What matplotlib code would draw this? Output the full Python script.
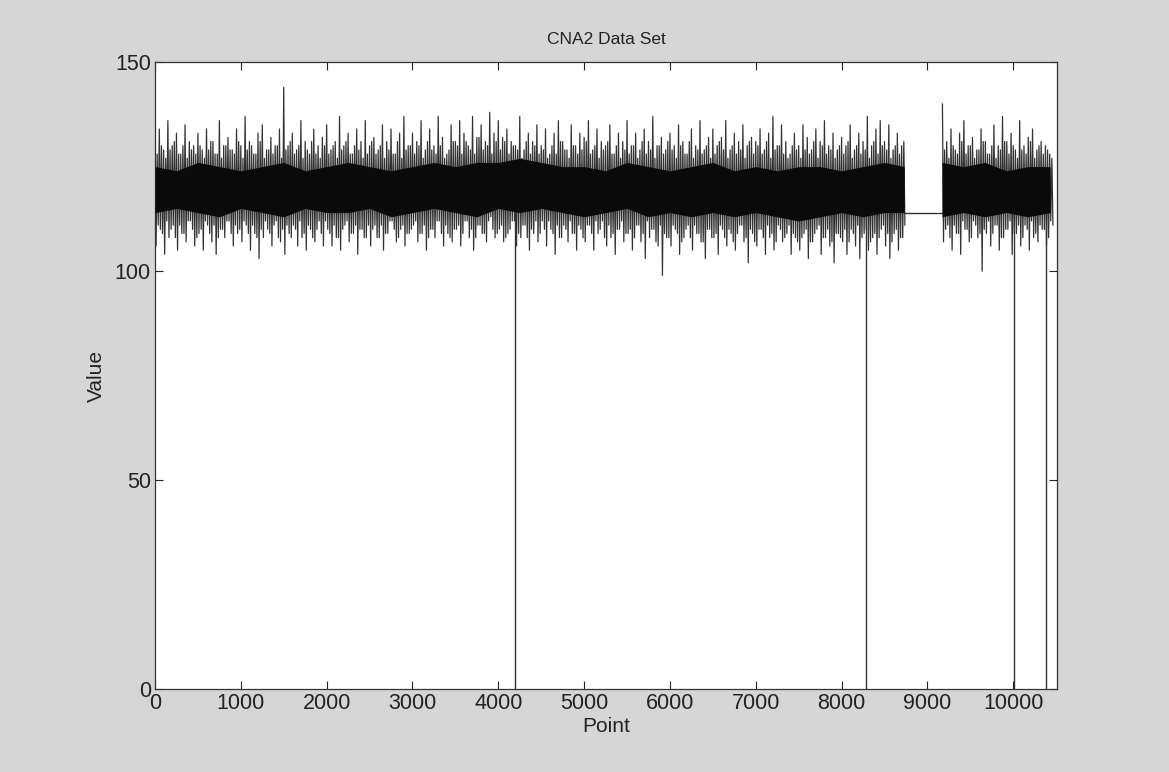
import matplotlib
matplotlib.use("Agg")
import matplotlib.pyplot as plt
import numpy as np

plt.rcParams["font.family"] = ["Liberation Sans", "DejaVu Sans"]

# spike envelope, one bin every 50 points
# (a = larger swing, b = smaller swing inside the same bin)
step = 50
seg1_start = 0
seg1_upper_a = [
    131, 134, 129, 136, 130, 133, 128, 135, 131, 130,
    133, 129, 134, 131, 128, 136, 130, 132, 129, 134,
    130, 137, 131, 128, 133, 135, 129, 132, 130, 134,
    144, 130, 133, 129, 136, 131, 128, 134, 130, 132,
    135, 129, 131, 137, 130, 133, 128, 134, 131, 136,
    130, 132, 129, 135, 131, 134, 128, 133, 137, 130,
    133, 131, 136, 129, 134, 130, 137, 132, 128, 135,
    131, 136, 133, 130, 137, 132, 135, 131, 138, 133,
    136, 132, 134, 131, 130, 137, 129, 133, 131, 135,
    130, 134, 128, 133, 136, 131, 129, 135, 130, 133,
    132, 136, 129, 134, 131, 130, 135, 128, 133, 131,
    136, 130, 133, 129, 134, 131, 137, 130, 132, 129,
    133, 130, 135, 131, 128, 134, 130, 136, 129, 132,
    134, 130, 132, 136, 129, 133, 131, 135, 130, 132,
    131, 134, 129, 133, 137, 130, 135, 131, 128, 133,
    130, 135, 132, 129, 134, 131, 136, 130, 133, 129,
    132, 130, 135, 129, 133, 131, 137, 130, 134, 136,
    131, 135, 129, 133, 130,
]
seg1_lower_a = [
    106, 110, 104, 108, 111, 105, 109, 107, 112, 106,
    109, 105, 111, 107, 104, 110, 108, 112, 106, 109,
    107, 111, 105, 109, 103, 108, 110, 106, 112, 107,
    104, 109, 111, 106, 108, 105, 110, 107, 112, 106,
    110, 106, 108, 105, 111, 107, 109, 104, 110, 108,
    106, 111, 108, 105, 109, 112, 107, 110, 106, 109,
    111, 107, 109, 105, 110, 108, 112, 106, 109, 107,
    110, 106, 112, 108, 105, 111, 109, 107, 113, 108,
    110, 107, 109, 112, 106, 108, 111, 105, 109, 107,
    112, 106, 110, 104, 108, 111, 107, 109, 105, 110,
    107, 111, 105, 109, 112, 106, 108, 104, 110, 107,
    109, 105, 111, 107, 103, 108, 110, 106, 99, 108,
    106, 110, 104, 108, 111, 105, 109, 107, 103, 110,
    108, 104, 110, 106, 109, 105, 111, 107, 102, 109,
    106, 110, 104, 108, 105, 111, 107, 109, 104, 108,
    105, 109, 103, 107, 110, 104, 108, 106, 102, 109,
    107, 104, 110, 106, 103, 109, 105, 108, 104, 110,
    106, 103, 109, 105, 108,
]
seg1_upper_b = [
    128, 130, 127, 129, 131, 128, 130, 127, 129, 128,
    130, 127, 129, 131, 128, 127, 130, 129, 128, 131,
    127, 129, 130, 128, 131, 127, 129, 128, 130, 127,
    129, 131, 128, 130, 127, 129, 131, 128, 127, 130,
    128, 130, 127, 129, 131, 128, 130, 129, 127, 128,
    131, 128, 130, 127, 129, 128, 131, 127, 129, 130,
    128, 130, 127, 131, 129, 128, 130, 127, 129, 131,
    130, 128, 131, 129, 128, 132, 129, 130, 128, 131,
    129, 131, 128, 130, 129, 127, 131, 128, 130, 128,
    129, 127, 130, 128, 131, 129, 127, 130, 128, 129,
    131, 128, 130, 127, 129, 131, 128, 130, 127, 129,
    128, 130, 127, 131, 128, 129, 127, 130, 128, 131,
    129, 127, 130, 128, 131, 127, 129, 128, 130, 127,
    128, 131, 129, 127, 130, 128, 129, 127, 131, 128,
    130, 128, 131, 127, 129, 130, 128, 127, 130, 129,
    127, 129, 128, 131, 127, 130, 128, 129, 127, 130,
    128, 131, 127, 130, 128, 129, 127, 131, 128, 130,
    129, 127, 130, 128, 131,
]
seg1_lower_b = [
    111, 109, 112, 110, 108, 111, 109, 112, 110, 108,
    110, 112, 109, 111, 108, 110, 112, 109, 111, 110,
    112, 109, 111, 108, 110, 112, 109, 111, 108, 110,
    111, 108, 110, 112, 109, 111, 108, 110, 109, 112,
    109, 111, 108, 110, 112, 109, 111, 110, 108, 111,
    110, 108, 111, 109, 112, 110, 108, 111, 109, 110,
    112, 109, 111, 108, 110, 112, 109, 111, 108, 110,
    111, 109, 112, 110, 108, 111, 109, 112, 110, 109,
    111, 108, 110, 112, 109, 111, 108, 110, 112, 109,
    110, 112, 109, 111, 108, 110, 112, 109, 111, 108,
    111, 109, 112, 110, 108, 111, 109, 110, 112, 109,
    110, 108, 111, 109, 112, 110, 107, 111, 109, 108,
    111, 109, 107, 110, 108, 111, 109, 107, 110, 108,
    109, 111, 108, 110, 107, 109, 111, 108, 110, 107,
    110, 108, 111, 109, 107, 110, 108, 111, 109, 107,
    108, 110, 107, 109, 111, 108, 110, 107, 109, 108,
    110, 107, 109, 111, 108, 110, 107, 109, 108, 111,
    109, 107, 110, 108, 111,
]
seg2_start = 9175
seg2_upper_a = [140, 131, 134, 129, 133, 136, 130, 132, 129, 134, 131, 128, 135,
                130, 137, 131, 133, 129, 136, 130, 132, 134, 129, 131, 130, 128]
seg2_lower_a = [107, 111, 105, 109, 104, 110, 107, 112, 108, 100, 109, 106, 111,
                105, 108, 110, 104, 109, 106, 111, 105, 108, 107, 110, 106, 112]
seg2_upper_b = [129, 127, 130, 128, 131, 128, 130, 127, 129, 131, 128, 130, 127,
                129, 131, 128, 130, 127, 129, 128, 131, 127, 130, 128, 129, 127]
seg2_lower_b = [110, 108, 111, 109, 112, 110, 108, 111, 109, 110, 112, 109, 111,
                108, 110, 112, 109, 111, 108, 110, 112, 109, 111, 110, 108, 111]

# dense core of the band, every 250 points
core1_x = list(range(0, 8501, 250)) + [8730]
core1_hi = [125, 124, 126, 125, 124, 125, 126, 124, 125, 126, 125, 124,
            125, 126, 125, 126, 126, 127, 126, 125, 125, 124, 126, 125,
            124, 125, 126, 124, 125, 124, 125, 125, 124, 125, 126, 125]
core1_lo = [114, 115, 114, 113, 115, 114, 113, 115, 114, 114, 115, 113,
            114, 115, 114, 113, 115, 114, 115, 114, 113, 114, 115, 113,
            114, 113, 114, 113, 114, 113, 112, 113, 114, 113, 114, 114]
core2_x = [9170, 9420, 9670, 9920, 10170, 10430]
core2_hi = [126, 125, 126, 124, 125, 125]
core2_lo = [113, 114, 113, 114, 113, 114]

# flat stretch and drops to zero
flat_x = [8730, 9170]
flat_val = 114
drop_points = [4200, 8280, 10005, 10385]


def zigzag(start, up_a, lo_a, up_b, lo_b):
    xs, ys = [], []
    for i, vals in enumerate(zip(up_a, lo_a, up_b, lo_b)):
        x0 = start + i * step
        xs += [x0, x0 + step / 4, x0 + step / 2, x0 + 3 * step / 4]
        ys += list(vals)
    return np.array(xs), np.array(ys)


fig = plt.figure(figsize=(11.69, 7.72), dpi=100, facecolor="#d6d6d6")
ax = fig.add_axes([0.1326, 0.1075, 0.7716, 0.812])

segments = [
    (seg1_start, seg1_upper_a, seg1_lower_a, seg1_upper_b, seg1_lower_b),
    (seg2_start, seg2_upper_a, seg2_lower_a, seg2_upper_b, seg2_lower_b),
]
for seg in segments:
    zx, zy = zigzag(*seg)
    ax.plot(zx, zy, color="#333333", lw=0.9, zorder=2)

ax.fill_between(core1_x, core1_hi, core1_lo, color="#0a0a0a", lw=0, zorder=3)
ax.fill_between(core2_x, core2_hi, core2_lo, color="#0a0a0a", lw=0, zorder=3)

ax.plot(flat_x, [flat_val, flat_val], color="#333333", lw=1.0)
ax.vlines(drop_points, 0, 118, color="#333333", lw=1.0)

ax.set_xlim(0, 10510)
ax.set_ylim(0, 150)
ax.set_xticks(np.arange(0, 10001, 1000))
ax.set_yticks([0, 50, 100, 150])
ax.tick_params(direction="in", top=True, right=True, length=6, width=0.8,
               labelsize=15.5, colors="#222222", pad=3)
for s in ax.spines.values():
    s.set_linewidth(0.9)
    s.set_color("#333333")

ax.set_title("CNA2 Data Set", fontsize=12.5, pad=13, color="#222222")
ax.set_xlabel("Point", fontsize=15, labelpad=2, color="#222222")
ax.set_ylabel("Value", fontsize=15, labelpad=6, color="#222222")

fig.savefig("out.png", dpi=100, facecolor=fig.get_facecolor())
